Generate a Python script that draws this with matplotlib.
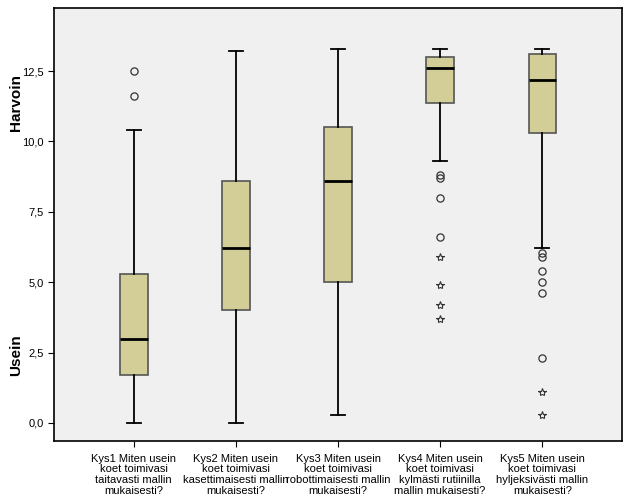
import matplotlib
matplotlib.use("Agg")
import matplotlib.pyplot as plt
from matplotlib.ticker import FuncFormatter

plt.rcParams['font.family'] = ['Liberation Sans', 'DejaVu Sans']

# vastaukset (luettu kuvasta)
labels = ["Kys1 Miten usein\nkoet toimivasi\ntaitavasti mallin\nmukaisesti?",
          "Kys2 Miten usein\nkoet toimivasi\nkasettimaisesti mallin\nmukaisesti?",
          "Kys3 Miten usein\nkoet toimivasi\nrobottimaisesti mallin\nmukaisesti?",
          "Kys4 Miten usein\nkoet toimivasi\nkylmästi rutiinilla\nmallin mukaisesti?",
          "Kys5 Miten usein\nkoet toimivasi\nhyljeksivästi mallin\nmukaisesti?"]
whislo = [0.0, 0.0, 0.3, 9.3, 6.2]
q1 = [1.7, 4.0, 5.0, 11.35, 10.3]
med = [3.0, 6.2, 8.6, 12.6, 12.2]
q3 = [5.3, 8.6, 10.5, 13.0, 13.1]
whishi = [10.4, 13.2, 13.3, 13.3, 13.3]
circles = [[11.6, 12.5], [], [], [8.8, 8.7, 8.0, 6.6], [6.05, 5.9, 5.4, 5.0, 4.6, 2.3]]
stars = [[], [], [], [5.9, 4.9, 4.2, 3.7], [1.1, 0.3]]

stats = []
for i in range(len(labels)):
    stats.append(dict(label=labels[i], whislo=whislo[i], q1=q1[i], med=med[i],
                      q3=q3[i], whishi=whishi[i], fliers=[]))

fig = plt.figure(figsize=(6.29, 5.04), dpi=100)
ax = fig.add_axes([0.0859, 0.125, 0.903, 0.859])
ax.set_facecolor('#f0f0f0')
pos = list(range(1, len(labels) + 1))
ax.bxp(stats, positions=pos, widths=0.27, patch_artist=True, showfliers=False,
       boxprops=dict(facecolor='#d3ce98', edgecolor='#555555', linewidth=1.2),
       medianprops=dict(color='black', linewidth=2),
       whiskerprops=dict(color='black', linewidth=1.3),
       capprops=dict(color='black', linewidth=1.3), capwidths=0.135)

for i, p in enumerate(pos):
    if circles[i]:
        ax.plot([p] * len(circles[i]), circles[i], 'o', mfc='none', mec='#333333', ms=5.2, mew=0.9)
    if stars[i]:
        ax.plot([p] * len(stars[i]), stars[i], '*', mfc='none', mec='#333333', ms=6, mew=0.8)

ax.set_xlim(0.22, 5.78)
ax.set_ylim(-0.64, 14.74)
ax.set_yticks([0, 2.5, 5, 7.5, 10, 12.5])
ax.yaxis.set_major_formatter(FuncFormatter(lambda v, p: f"{v:.1f}".replace('.', ',')))
ax.tick_params(axis='both', labelsize=8, length=4, color='black')
ax.tick_params(axis='x', pad=5)
ax.set_xticks(pos)
ax.set_xticklabels(labels, fontsize=8, linespacing=1.1)
for s in ax.spines.values():
    s.set_linewidth(1.2)

fig.text(0.025, 1 - 355 / 504, "Usein", rotation=90, fontsize=11, fontweight='bold', ha='center', va='center')
fig.text(0.025, 1 - 103 / 504, "Harvoin", rotation=90, fontsize=11, fontweight='bold', ha='center', va='center')

fig.savefig("out.png", dpi=100)
